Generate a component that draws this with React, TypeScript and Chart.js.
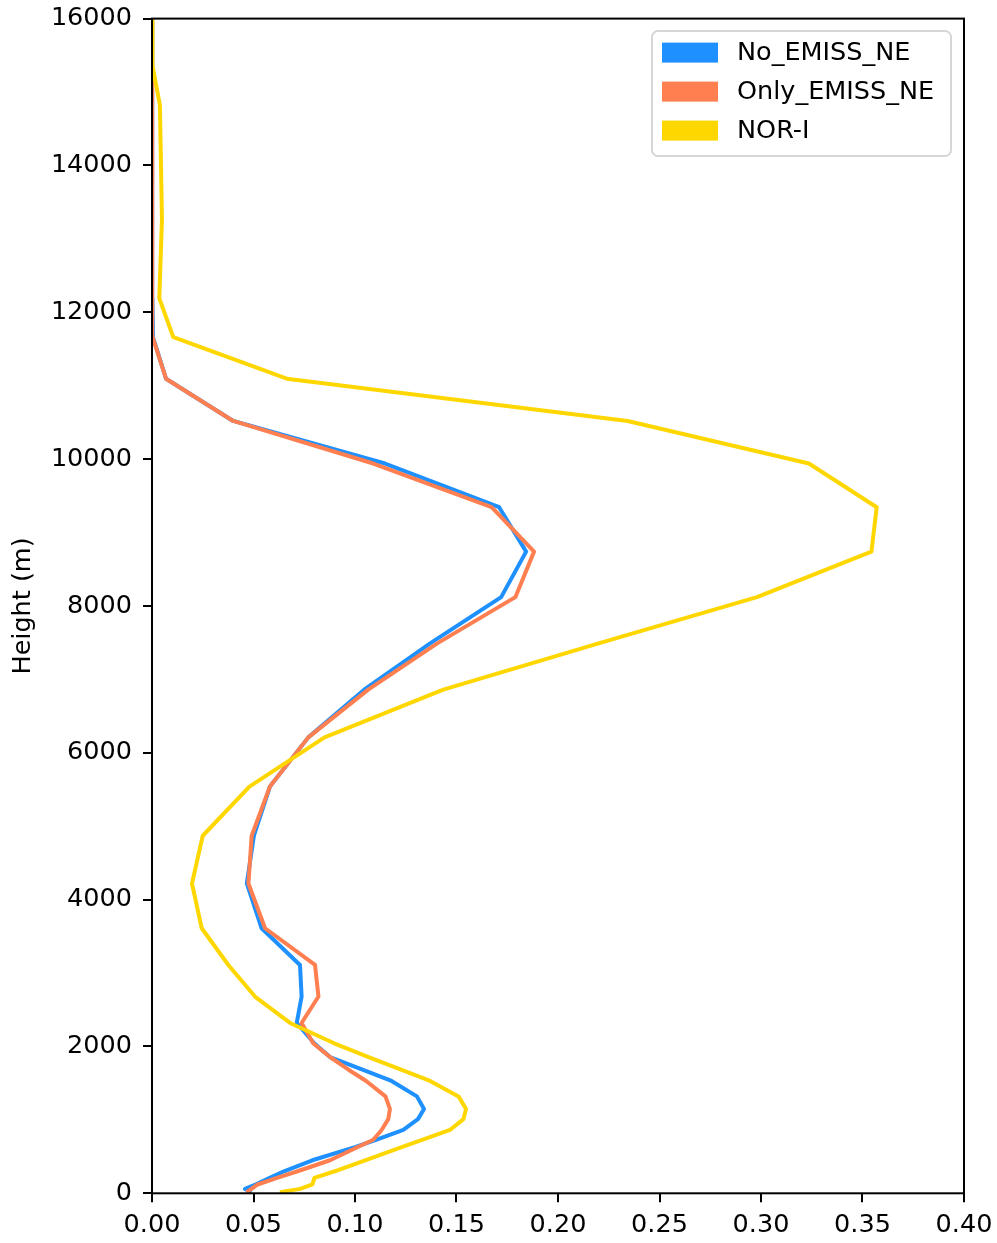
import React, { useEffect, useRef } from 'react';
import { Chart, registerables } from 'chart.js';

Chart.register(...registerables);

// Heights (m) of the profile levels
const heights = [15, 60, 120, 210, 300, 450, 630, 730, 863, 1010, 1149, 1320, 1530, 1680, 1850, 2040, 2320, 2680, 3110, 3610, 4220, 4870, 5540, 6210, 6860, 7490, 8120, 8740, 9345, 9940, 10520, 11095, 11660, 12190, 13270, 14820, 15350, 16000];

const noEmissNE = [0.049, 0.0458, 0.051, 0.058, 0.065, 0.079, 0.100, 0.1107, 0.1238, 0.131, 0.134, 0.1305, 0.118, 0.104, 0.088, 0.080, 0.0713, 0.0737, 0.0729, 0.054, 0.0467, 0.0502, 0.0581, 0.077, 0.1045, 0.137, 0.172, 0.1843, 0.171, 0.1148, 0.040, 0.0069, 0.0005, 0.0002, 0.0001, 0.0001, 0.0001, 0.0001];

const onlyEmissNE = [0.0465, 0.049, 0.052, 0.0616, 0.0717, 0.0877, 0.1014, 0.109, 0.1131, 0.1164, 0.1172, 0.1150, 0.1055, 0.097, 0.088, 0.0795, 0.0737, 0.082, 0.0803, 0.0557, 0.0475, 0.0491, 0.0581, 0.077, 0.1065, 0.1405, 0.179, 0.1882, 0.1673, 0.109, 0.040, 0.0069, 0.0003, 0.0001, 0.0001, 0.0001, 0.0001, 0.0001];

const norI = [0.063, 0.073, 0.079, 0.080, 0.090, 0.105, 0.123, 0.1334, 0.1468, 0.1534, 0.1547, 0.151, 0.137, 0.123, 0.107, 0.090, 0.068, 0.0507, 0.0376, 0.0245, 0.0197, 0.025, 0.048, 0.085, 0.1435, 0.220, 0.298, 0.3544, 0.357, 0.3236, 0.2343, 0.0664, 0.0105, 0.0036, 0.0049, 0.0039, 0.0003, 0.0002];

const seriesLabels = ['No_EMISS_NE', 'Only_EMISS_NE', 'NOR-I'];
const seriesColors = ['#1E90FF', '#FF7F50', '#FFD700'];
const yAxisTitle = 'Height (m)';

const FONT = '"DejaVu Sans", sans-serif';
const FONT_SIZE = 25.5;

const framePlugin = {
  id: 'frame',
  afterDatasetsDraw(chart: any) {
    const { ctx, chartArea: a } = chart;
    ctx.save();
    ctx.strokeStyle = '#000';
    ctx.lineWidth = 2;
    ctx.strokeRect(a.left, a.top, a.right - a.left, a.bottom - a.top);
    ctx.restore();
  },
};

const legendPlugin = {
  id: 'boxLegend',
  afterDraw(chart: any) {
    const { ctx, chartArea: a } = chart;
    const w = 299;
    const h = 125;
    const x0 = a.right - 13 - w;
    const y0 = a.top + 12.5;
    const r = 6;
    ctx.save();
    ctx.beginPath();
    ctx.moveTo(x0 + r, y0);
    ctx.lineTo(x0 + w - r, y0);
    ctx.arcTo(x0 + w, y0, x0 + w, y0 + r, r);
    ctx.lineTo(x0 + w, y0 + h - r);
    ctx.arcTo(x0 + w, y0 + h, x0 + w - r, y0 + h, r);
    ctx.lineTo(x0 + r, y0 + h);
    ctx.arcTo(x0, y0 + h, x0, y0 + h - r, r);
    ctx.lineTo(x0, y0 + r);
    ctx.arcTo(x0, y0, x0 + r, y0, r);
    ctx.closePath();
    ctx.fillStyle = 'rgba(255,255,255,0.8)';
    ctx.fill();
    ctx.strokeStyle = '#d6d6d6';
    ctx.lineWidth = 2;
    ctx.stroke();
    ctx.font = `${FONT_SIZE}px ${FONT}`;
    ctx.textBaseline = 'middle';
    ctx.textAlign = 'left';
    chart.data.datasets.forEach((ds: any, i: number) => {
      const cy = y0 + 21.5 + i * 39;
      ctx.fillStyle = ds.borderColor;
      ctx.fillRect(x0 + 10, cy - 10, 56, 20);
      ctx.fillStyle = '#000';
      ctx.fillText(ds.label, x0 + 85, cy + 1);
    });
    ctx.restore();
  },
};

export default function App() {
  const canvasRef = useRef<HTMLCanvasElement | null>(null);

  useEffect(() => {
    if (!canvasRef.current) return;
    const series = [noEmissNE, onlyEmissNE, norI];
    const datasets = series.map((vals, i) => ({
      label: seriesLabels[i],
      data: vals.map((v, k) => ({ x: v, y: heights[k] })),
      borderColor: seriesColors[i],
      backgroundColor: seriesColors[i],
      borderWidth: 4,
      showLine: true,
      pointRadius: 0,
      pointHoverRadius: 0,
      borderJoinStyle: 'round' as const,
      borderCapStyle: 'butt' as const,
      tension: 0,
      clip: 0,
      order: 3 - i,
    }));

    const chart = new Chart(canvasRef.current, {
      type: 'scatter',
      data: { datasets },
      plugins: [framePlugin, legendPlugin],
      options: {
        animation: false,
        responsive: false,
        events: [],
        layout: { padding: { left: 0, right: 33, top: 18.6, bottom: 0 } },
        plugins: {
          legend: { display: false },
          tooltip: { enabled: false },
          title: { display: false },
        },
        scales: {
          x: {
            type: 'linear',
            min: 0,
            max: 0.4,
            border: { display: false },
            grid: {
              display: true,
              drawOnChartArea: false,
              drawTicks: true,
              tickLength: 9,
              color: '#000',
              lineWidth: 2,
            },
            ticks: {
              stepSize: 0.05,
              color: '#000',
              font: { family: FONT, size: FONT_SIZE },
              padding: 8,
              maxRotation: 0,
              autoSkip: false,
              callback: (v: any) => Number(v).toFixed(2),
            },
            afterFit: (scale: any) => {
              scale.height = 49.7;
              scale.paddingLeft = 0;
              scale.paddingRight = 0;
            },
          },
          y: {
            type: 'linear',
            min: 0,
            max: 16000,
            border: { display: false },
            grid: {
              display: true,
              drawOnChartArea: false,
              drawTicks: true,
              tickLength: 9,
              color: '#000',
              lineWidth: 2,
            },
            ticks: {
              stepSize: 2000,
              color: '#000',
              font: { family: FONT, size: FONT_SIZE },
              padding: 11,
              autoSkip: false,
              callback: (v: any) => String(v),
            },
            title: {
              display: true,
              text: yAxisTitle,
              color: '#000',
              font: { family: FONT, size: FONT_SIZE },
              padding: { top: 8, bottom: 0 },
            },
            afterFit: (scale: any) => {
              scale.width = 152;
              scale.paddingTop = 0;
              scale.paddingBottom = 0;
            },
          },
        },
      },
    });
    return () => chart.destroy();
  }, []);

  return (
    <div style={{ position: 'absolute', left: 0, top: 0, width: 997, height: 1243, background: '#fff' }}>
      <canvas ref={canvasRef} width={997} height={1243} style={{ display: 'block', width: 997, height: 1243 }} />
    </div>
  );
}
